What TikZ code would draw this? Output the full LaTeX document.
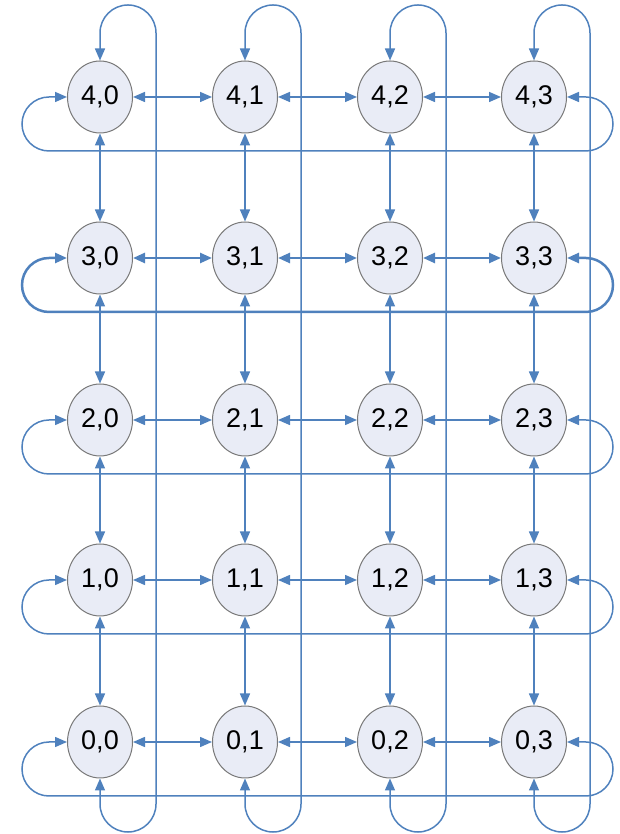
\documentclass[tikz,border=0pt]{standalone}
\usepackage{fontspec}
\setmainfont{Liberation Sans}
\usetikzlibrary{arrows.meta, shapes.geometric}

\begin{document}
\begin{tikzpicture}[x=1pt, y=1pt, >={Triangle[length=12pt, width=10pt]}]
    \definecolor{linkblue}{RGB}{79, 129, 189}
    \definecolor{nodefill}{RGB}{233, 236, 246}
    \definecolor{nodeline}{RGB}{120, 120, 120}
    \tikzset{
        pe/.style={ellipse, draw=nodeline, fill=nodefill, line width=1pt, minimum width=65pt, minimum height=72pt, inner sep=0pt, font=\fontsize{27}{32}\selectfont},
        link/.style={<->, draw=linkblue, line width=1.5pt},
        boldlink/.style={link, line width=2.5pt}
    }
    \useasboundingbox (0,0) rectangle (620,834);

    % processing elements
    \foreach \r/\y in {0/92, 1/254, 2/414, 3/576, 4/737}
        \foreach \c/\x in {0/100, 1/245, 2/390, 3/534}
            \node[pe] (n\r\c) at (\x,\y) {\r,\c};

    % row links and row wrap-around
    \foreach \r/\y/\s in {0/92/link, 1/254/link, 2/414/link, 3/576/boldlink, 4/737/link} {
        \foreach \c/\d in {0/1, 1/2, 2/3}
            \draw[\s] (n\r\c) -- (n\r\d);
        \draw[\s] (n\r0.west) -- (49,\y) arc[start angle=90, end angle=270, radius=27]
            -- (586,{\y-54}) arc[start angle=-90, end angle=90, radius=27] -- (n\r3.east);
    }

    % column links
    \foreach \r/\s in {0/1, 1/2, 2/3, 3/4}
        \foreach \c in {0,...,3}
            \draw[link] (n\s\c) -- (n\r\c);

    % column wrap-around
    \foreach \c/\x in {0/100, 1/245, 2/390, 3/534}
        \draw[link] (n4\c.north) -- (\x,801) arc[start angle=180, end angle=0, radius=28]
            -- ({\x+56},30) arc[start angle=0, end angle=-180, radius=28] -- (n0\c.south);
\end{tikzpicture}
\end{document}
